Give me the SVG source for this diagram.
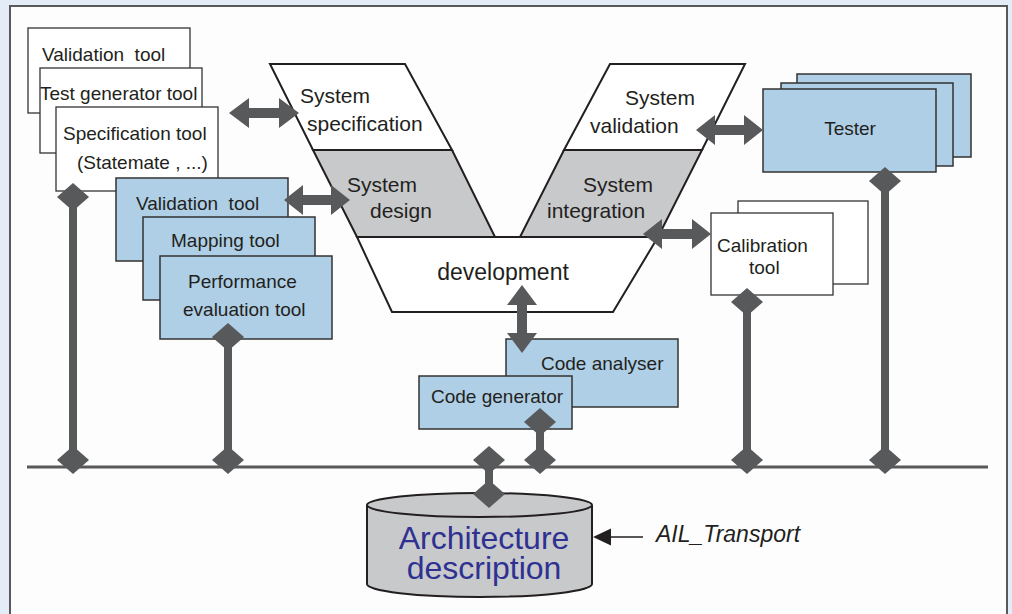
<svg xmlns="http://www.w3.org/2000/svg" width="1012" height="614" viewBox="0 0 1012 614">
<defs>
<style>
text{font-family:"Liberation Sans",Arial,sans-serif;fill:#231f20}
.t19{font-size:19px}
.t21{font-size:21px}
.pre{white-space:pre}
.wbox{fill:#ffffff;stroke:#333;stroke-width:1.3}
.bbox{fill:#afcfe6;stroke:#333;stroke-width:1.5}
.vw{fill:#ffffff;stroke:#231f20;stroke-width:2}
.vg{fill:#c8c9cb;stroke:#231f20;stroke-width:2}
.dia{fill:#58595b}
.vline{stroke:#58595b;stroke-width:8}
.arr{fill:#58595b}
.arch{font-size:32px;fill:#2e3192}
</style>
<polygon id="dm" points="0,-14 16,0 0,14 -16,0"/>
</defs>
<rect x="0" y="0" width="1012" height="614" fill="#e4edf7"/>
<rect x="10" y="6" width="997" height="620" fill="#fdfdfd" stroke="#58595b" stroke-width="2"/>

<!-- V model -->
<g id="sys-spec">
<polygon class="vw" points="270,64 405,64 452,150 313,150"/>
<text class="t21" x="300" y="103">System</text>
<text class="t21" x="307" y="131">specification</text>
</g>
<g id="sys-design">
<polygon class="vg" points="313,150 452,150 495,237 357,237"/>
<text class="t21" x="347" y="192">System</text>
<text class="t21" x="370" y="218">design</text>
</g>
<g id="sys-validation">
<polygon class="vw" points="610,64 745,64 702,150 564,150"/>
<text class="t21" x="625" y="105">System</text>
<text class="t21" x="590" y="133">validation</text>
</g>
<g id="sys-integration">
<polygon class="vg" points="564,150 702,150 658,237 520,237"/>
<text class="t21" x="583" y="192">System</text>
<text class="t21" x="547" y="218">integration</text>
</g>
<g id="development">
<polygon class="vw" points="357,237 658,237 613,312 392,312"/>
<text x="503" y="280" font-size="23" text-anchor="middle">development</text>
</g>

<!-- left white stack -->
<g id="w-validation">
<rect class="wbox" x="28" y="28" width="162" height="85"/>
<text class="t19 pre" x="42" y="61">Validation  tool</text>
</g>
<g id="w-testgen">
<rect class="wbox" x="40" y="68" width="162" height="85"/>
<text class="t19" x="40" y="100">Test generator tool</text>
</g>
<g id="w-spec">
<rect class="wbox" x="56" y="107" width="162" height="84"/>
<text class="t19" x="63" y="140">Specification tool</text>
<text class="t19" x="77" y="169">(Statemate , ...)</text>
</g>

<!-- left blue stack -->
<g id="b-validation">
<rect class="bbox" x="116" y="178" width="172" height="83"/>
<text class="t19 pre" x="136" y="210">Validation  tool</text>
</g>
<g id="b-mapping">
<rect class="bbox" x="143" y="217" width="172" height="83"/>
<text class="t19" x="171" y="247">Mapping tool</text>
</g>
<g id="b-perf">
<rect class="bbox" x="160" y="256" width="172" height="83"/>
<text class="t19" x="188" y="288">Performance</text>
<text class="t19" x="183" y="316">evaluation tool</text>
</g>

<!-- tester stack -->
<g id="tester">
<rect class="bbox" x="797" y="74" width="174" height="83"/>
<rect class="bbox" x="781" y="83" width="172" height="83"/>
<rect class="bbox" x="763" y="89" width="173" height="83"/>
<text class="t19" x="850" y="135" text-anchor="middle">Tester</text>
</g>

<!-- calibration -->
<g id="calibration">
<rect class="wbox" x="738" y="201" width="130" height="83"/>
<rect class="wbox" x="711" y="213" width="122" height="82"/>
<text class="t19" x="717" y="252">Calibration</text>
<text class="t19" x="749" y="274">tool</text>
</g>

<!-- code boxes -->
<g id="code-analyser">
<rect class="bbox" x="506" y="339" width="172" height="68"/>
<text class="t19" x="541" y="370">Code analyser</text>
</g>
<g id="code-generator">
<rect class="bbox" x="419" y="376" width="153" height="53"/>
<text class="t19" x="431" y="403">Code generator</text>
</g>

<!-- architecture cylinder -->
<g id="architecture">
<path d="M367,505 L367,584 A112.5,13 0 0 0 592,584 L592,505" fill="#c8c9cb" stroke="#231f20" stroke-width="2"/>
<ellipse cx="479.5" cy="505" rx="112.5" ry="12" fill="#c8c9cb" stroke="#231f20" stroke-width="2"/>
<text class="arch" x="484" y="549" text-anchor="middle">Architecture</text>
<text class="arch" x="484" y="579" text-anchor="middle">description</text>
</g>

<g id="ail-label">
<text x="656" y="542" font-size="23" font-style="italic">AIL_Transport</text>
</g>

<!-- connectors -->
<g id="connectors">
<line x1="27" y1="467" x2="988" y2="467" stroke="#58595b" stroke-width="3"/>
<line class="vline" x1="73" y1="197" x2="73" y2="460"/>
<line class="vline" x1="228" y1="337" x2="228" y2="460"/>
<line class="vline" x1="540" y1="422" x2="540" y2="460"/>
<line class="vline" x1="489" y1="460" x2="489" y2="494"/>
<line class="vline" x1="747" y1="302" x2="747" y2="460"/>
<line class="vline" x1="885" y1="181" x2="885" y2="460"/>
<use href="#dm" class="dia" x="73" y="197"/>
<use href="#dm" class="dia" x="73" y="460"/>
<use href="#dm" class="dia" x="228" y="337"/>
<use href="#dm" class="dia" x="228" y="460"/>
<use href="#dm" class="dia" x="540" y="422"/>
<use href="#dm" class="dia" x="540" y="460"/>
<use href="#dm" class="dia" x="489" y="460"/>
<use href="#dm" class="dia" x="489" y="494"/>
<use href="#dm" class="dia" x="747" y="302"/>
<use href="#dm" class="dia" x="747" y="460"/>
<use href="#dm" class="dia" x="885" y="181"/>
<use href="#dm" class="dia" x="885" y="460"/>
<!-- double arrows -->
<polygon class="arr" points="229,113 249,98 249,108 279,108 279,98 299,113 279,128 279,118 249,118 249,128"/>
<polygon class="arr" points="284,200 303,185 303,195 331,195 331,185 350,200 331,215 331,205 303,205 303,215"/>
<polygon class="arr" points="696,130 715,115 715,125 744,125 744,115 763,130 744,145 744,135 715,135 715,145"/>
<polygon class="arr" points="643,234 662,219 662,229 692,229 692,219 711,234 692,249 692,239 662,239 662,249"/>
<polygon class="arr" points="522,285 537,305 527,305 527,333 537,333 522,353 507,333 517,333 517,305 507,305"/>
<!-- AIL arrow -->
<line x1="608" y1="537" x2="643" y2="537" stroke="#231f20" stroke-width="1.5"/>
<polygon points="593,537 611,528.5 611,545.5" fill="#231f20"/>
</g>
</svg>
